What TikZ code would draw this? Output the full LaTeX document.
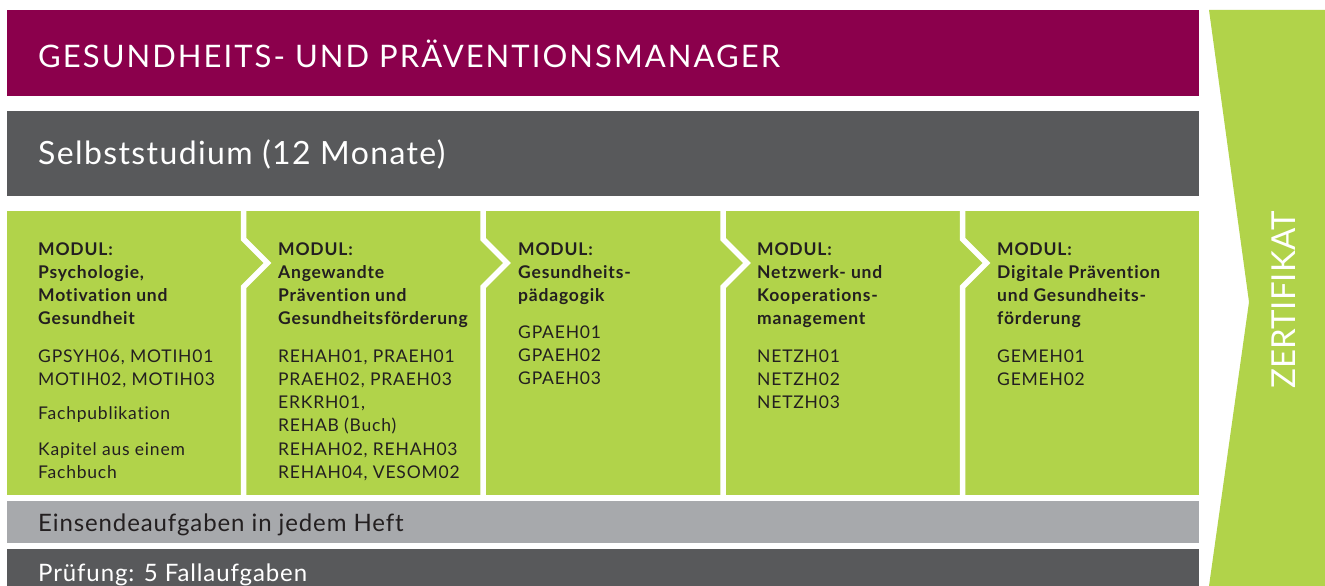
\documentclass[tikz,border=0pt]{standalone}
\usepackage{fontspec}
\setmainfont{Lato}[Ligatures=NoCommon]
\definecolor{magentabar}{RGB}{139,0,76}
\definecolor{darkbar}{RGB}{88,89,91}
\definecolor{lightbar}{RGB}{167,169,172}
\definecolor{modgreen}{RGB}{177,211,74}
\definecolor{textdark}{RGB}{35,31,32}
\tikzset{
  bar/.style={fill=#1, draw=none},
  sep/.style={draw=white, line width=5.5pt, line join=miter},
  bigtxt/.style={anchor=base west, inner sep=0pt, text=white, font=\fontsize{31}{36}\selectfont\addfontfeature{LetterSpace=6.6}},
  bottxt/.style={anchor=base west, inner sep=0pt, font=\fontsize{24}{28}\selectfont\addfontfeature{LetterSpace=3.7}},
  modhead/.style={anchor=base west, inner sep=0pt, text=textdark, font=\fontsize{17.5}{23.3}\selectfont\bfseries\addfontfeature{LetterSpace=4.6}},
  modbody/.style={anchor=base west, inner sep=0pt, text=textdark, font=\fontsize{17.5}{23.3}\selectfont\addfontfeature{LetterSpace=4.5}},
}
\begin{document}
\begin{tikzpicture}[x=1pt,y=-1pt]
\useasboundingbox (0,0) rectangle (1325,586);
% bars
\fill[bar=magentabar] (7,10) rectangle (1199,95.5);
\fill[bar=darkbar] (7,111) rectangle (1199,195.5);
\fill[bar=modgreen] (7,211) rectangle (1199,495);
\fill[bar=lightbar] (7,501) rectangle (1199,543);
\fill[bar=darkbar] (7,549) rectangle (1199,586);
% certificate arrow
\fill[modgreen] (1209,10) -- (1325,10) -- (1325,586) -- (1209,586) -- (1249,302) -- cycle;
% module separators
\foreach \x in {243.5,483,723,962.5}{
  \draw[sep] (\x,209) -- (\x,239) -- (\x+24,263) -- (\x,287) -- (\x,497);
}
% headings
\node[bigtxt] (title) at (38,67) {GESUNDHEITS- UND PRÄVENTIONSMANAGER};
\node[bigtxt, font=\fontsize{32}{36}\selectfont\addfontfeature{LetterSpace=4.3}] (self) at (38,164) {Selbststudium (12 Monate)};
\node[bottxt, text=textdark] (einsend) at (38,531) {Einsendeaufgaben in jedem Heft};
\node[bottxt, text=white] (pruef) at (38,581) {Prüfung: 5 Fallaufgaben};
\node[inner sep=0pt, text=white, rotate=90, font=\fontsize{33}{36}\selectfont] (zert) at (1284,300) {ZERTIFIKAT};
% module 1
\node[modhead] (m1h) at (38,255) {\vtop{\hbox{MODUL:}\hbox{Psychologie,}\hbox{Motivation und}\hbox{Gesundheit}}};
\node[modbody] (m1c) at (38,362) {\vtop{\hbox{GPSYH06, MOTIH01}\hbox{MOTIH02, MOTIH03}}};
\node[modbody] (m1f) at (38,419) {Fachpublikation};
\node[modbody] (m1k) at (38,455.5) {\vtop{\hbox{Kapitel aus einem}\hbox{Fachbuch}}};
% module 2
\node[modhead] (m2h) at (278,255) {\vtop{\hbox{MODUL:}\hbox{Angewandte}\hbox{Prävention und}\hbox{Gesundheitsförderung}}};
\node[modbody] (m2c) at (278,362) {\vtop{\hbox{REHAH01, PRAEH01}\hbox{PRAEH02, PRAEH03}\hbox{ERKRH01,}\hbox{REHAB (Buch)}\hbox{REHAH02, REHAH03}\hbox{REHAH04, VESOM02}}};
% module 3
\node[modhead] (m3h) at (518,255) {\vtop{\hbox{MODUL:}\hbox{Gesundheits-}\hbox{pädagogik}}};
\node[modbody] (m3c) at (518,338) {\vtop{\hbox{GPAEH01}\hbox{GPAEH02}\hbox{GPAEH03}}};
% module 4
\node[modhead] (m4h) at (757,255) {\vtop{\hbox{MODUL:}\hbox{Netzwerk- und}\hbox{Kooperations-}\hbox{management}}};
\node[modbody] (m4c) at (757,362) {\vtop{\hbox{NETZH01}\hbox{NETZH02}\hbox{NETZH03}}};
% module 5
\node[modhead] (m5h) at (997,255) {\vtop{\hbox{MODUL:}\hbox{Digitale Prävention}\hbox{und Gesundheits-}\hbox{förderung}}};
\node[modbody] (m5c) at (997,362) {\vtop{\hbox{GEMEH01}\hbox{GEMEH02}}};
\end{tikzpicture}
\end{document}
